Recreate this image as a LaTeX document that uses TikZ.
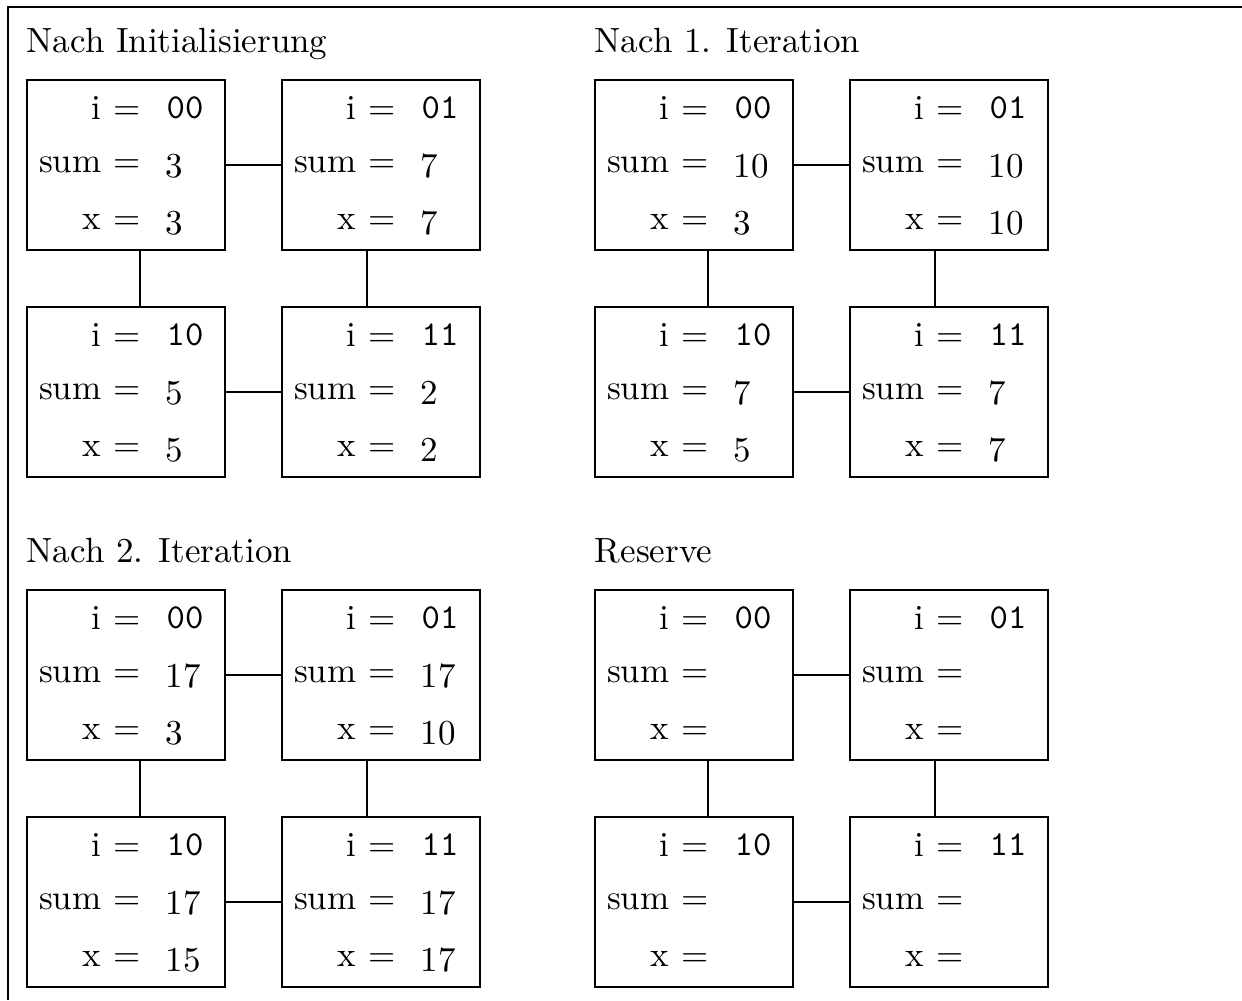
\documentclass[tikz,border=0pt]{standalone}
\tikzset{
  cellbox/.style={draw, rectangle, line width=0.4pt, minimum width=56.57pt, minimum height=48.57pt, inner sep=0pt, outer sep=0pt, anchor=north west},
  lab/.style={anchor=east, inner sep=0pt},
  val/.style={anchor=west, inner sep=0pt},
  ttl/.style={anchor=base west, inner sep=0pt},
  conn/.style={line width=0.4pt},
  frameline/.style={line width=0.4pt}
}
\newcommand\mycell[6]{%
  \node[cellbox] (#1) at (#2,#3) {};
  \node[lab] (#1-li) at (#2+114,#3+28) {i $=$};
  \node[lab] (#1-ls) at (#2+114,#3+85) {sum $=$};
  \node[lab] (#1-lx) at (#2+114,#3+142) {x $=$};
  \node[val] (#1-vi) at (#2+139,#3+28) {\ttfamily #4};
  \node[val] (#1-vs) at (#2+138,#3+86) {#5};
  \node[val] (#1-vx) at (#2+138,#3+143) {#6};
}
\newcommand\myconn[1]{%
  \draw[conn] (#100.east) -- (#101.west);
  \draw[conn] (#110.east) -- (#111.west);
  \draw[conn] ([xshift=4pt]#100.south) -- ([xshift=4pt]#110.north);
  \draw[conn] ([xshift=-4pt]#101.south) -- ([xshift=-4pt]#111.north);
}
\begin{document}
\begin{tikzpicture}[x=0.2857pt, y=-0.2857pt]
  \useasboundingbox (0,0) rectangle (1242,1000);
  \draw[frameline] (1242,7) -- (8,7) -- (8,1000);

  % Panel 1
  \node[ttl] (t1) at (26,52) {Nach Initialisierung};
  \mycell{a00}{27}{80}{00}{3}{3}
  \mycell{a01}{282}{80}{01}{7}{7}
  \mycell{a10}{27}{307}{10}{5}{5}
  \mycell{a11}{282}{307}{11}{2}{2}
  \myconn{a}

  % Panel 2
  \node[ttl] (t2) at (594,52) {Nach 1. Iteration};
  \mycell{b00}{595}{80}{00}{10}{3}
  \mycell{b01}{850}{80}{01}{10}{10}
  \mycell{b10}{595}{307}{10}{7}{5}
  \mycell{b11}{850}{307}{11}{7}{7}
  \myconn{b}

  % Panel 3
  \node[ttl] (t3) at (26,562) {Nach 2. Iteration};
  \mycell{c00}{27}{590}{00}{17}{3}
  \mycell{c01}{282}{590}{01}{17}{10}
  \mycell{c10}{27}{817}{10}{17}{15}
  \mycell{c11}{282}{817}{11}{17}{17}
  \myconn{c}

  % Panel 4
  \node[ttl] (t4) at (594,562) {Reserve};
  \mycell{d00}{595}{590}{00}{}{}
  \mycell{d01}{850}{590}{01}{}{}
  \mycell{d10}{595}{817}{10}{}{}
  \mycell{d11}{850}{817}{11}{}{}
  \myconn{d}
\end{tikzpicture}
\end{document}
